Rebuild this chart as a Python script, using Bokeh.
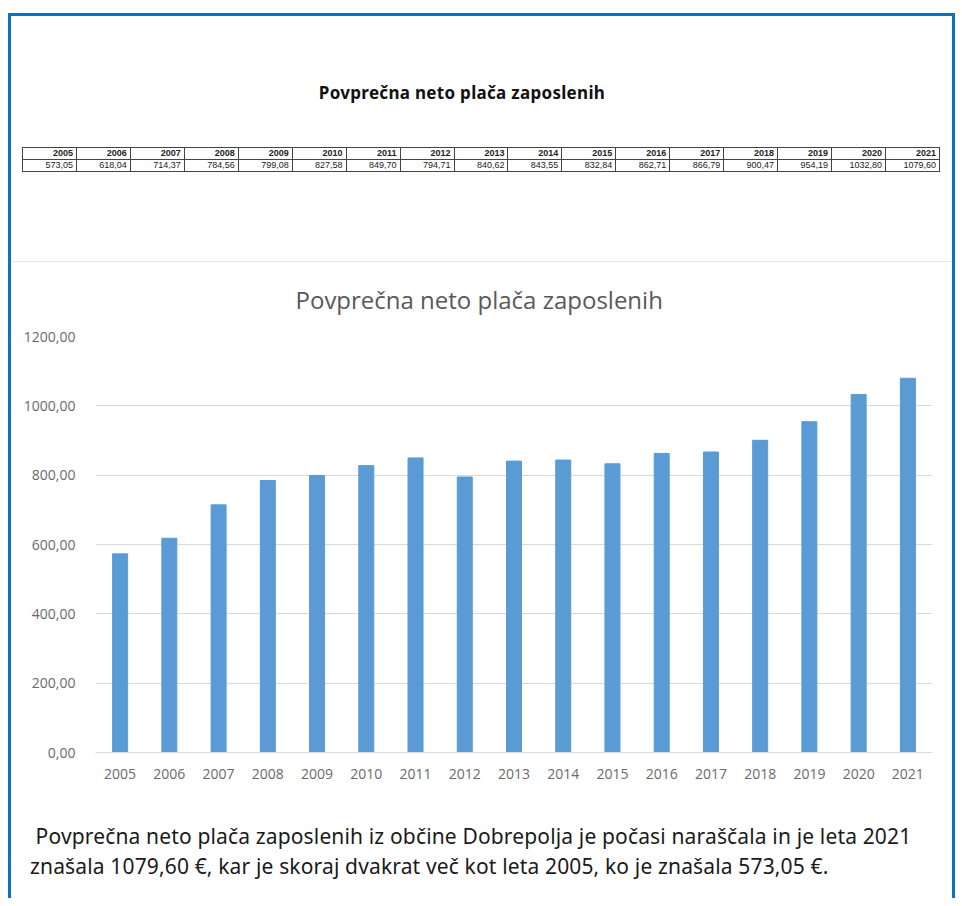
from bokeh.plotting import figure
from bokeh.layouts import column
from bokeh.models import FactorRange, Range1d, Title, Div, CustomJSTickFormatter, FixedTicker
from bokeh.embed import file_html
from bokeh.resources import INLINE

years = [str(y) for y in range(2005, 2022)]
salaries = [573.05, 618.04, 714.37, 784.56, 799.08, 827.58, 849.70, 794.71, 840.62,
            843.55, 832.84, 862.71, 866.79, 900.47, 954.19, 1032.80, 1079.60]
salary_labels = [f"{v:.2f}".replace(".", ",") for v in salaries]
y_ticks = [0, 200, 400, 600, 800, 1000, 1200]
title_text = "Povprečna neto plača zaposlenih"
caption_lines = [
    "&nbsp;Povprečna neto plača zaposlenih iz občine Dobrepolja je počasi naraščala in je leta 2021",
    "znašala 1079,60 €, kar je skoraj dvakrat več kot leta 2005, ko je znašala 573,05 €.",
]

BLUE = "#0b73c6"
W = 941

# ---- title + table section (HTML) ----
td = ("border:1.5px solid #444;padding:0 3px 0 0;text-align:right;height:11px;"
      "line-height:11px;overflow:hidden;white-space:nowrap;")
hdr_cells = "".join(f'<td style="{td}font-weight:bold;">{y}</td>' for y in years)
val_cells = "".join(f'<td style="{td}">{v}</td>' for v in salary_labels)
top_html = (
    f'<div style="position:relative;width:{W}px;height:246px;">'
    f'<div style="position:absolute;left:0;top:66px;width:902px;text-align:center;'
    f'font-family:\'Noto Sans\';font-weight:bold;font-size:17px;line-height:22px;'
    f'color:#111;letter-spacing:0.3px;">{title_text}</div>'
    f'<table style="position:absolute;left:11px;top:131px;width:918px;border-collapse:collapse;'
    f'table-layout:fixed;font-family:\'Liberation Sans\';font-size:9px;color:#222;">'
    f'<tr>{hdr_cells}</tr><tr>{val_cells}</tr></table>'
    f'<div style="position:absolute;left:0;top:245px;width:{W}px;height:1px;background:#e8e8e8;"></div>'
    f'</div>'
)
top = Div(text=top_html, width=W, height=246, margin=0)

# ---- bar chart ----
p = figure(width=W, height=538, x_range=FactorRange(*years), y_range=Range1d(0, 1200),
           output_backend="svg", toolbar_location=None,
           min_border_left=84, min_border_right=20,
           min_border_top=73, min_border_bottom=48)
p.add_layout(Title(text=title_text, align="left", offset=200, standoff=39,
                   vertical_align="middle",
                   text_font="Open Sans", text_font_size="24px",
                   text_font_style="normal", text_color="#595959"), "above")
p.vbar(x=years, top=salaries, width=0.305, color="#5b9bd5")
p.outline_line_color = None
p.xgrid.visible = False
p.ygrid.grid_line_color = "#d9d9d9"
p.yaxis.ticker = FixedTicker(ticks=y_ticks)
p.yaxis.formatter = CustomJSTickFormatter(code="return tick.toFixed(2).replace('.', ',');")
p.yaxis.axis_line_color = None
p.yaxis.major_tick_line_color = None
p.yaxis.minor_tick_line_color = None
p.yaxis.major_label_standoff = 14
p.xaxis.axis_line_color = "#d9d9d9"
p.xaxis.major_tick_line_color = None
p.xaxis.major_label_standoff = 10
for ax in (p.xaxis, p.yaxis):
    ax.major_label_text_font = "Open Sans"
    ax.major_label_text_font_size = "14px"
    ax.major_label_text_color = "#6a6a6a"

cap = Div(text='<div style="padding:21px 0 0 19px; font-family:\'Noto Sans\'; '
               'font-size:21px; line-height:30px; color:#1a1a1a; white-space:nowrap; '
               'letter-spacing:0.15px;">'
               + "<br>".join(caption_lines) + "</div>",
          width=W, height=98, margin=0)

layout = column(top, p, cap, margin=(13, 0, 0, 8),
                styles={"border-top": f"3px solid {BLUE}",
                        "border-left": f"3px solid {BLUE}",
                        "border-right": f"3px solid {BLUE}",
                        "background-color": "white"})

open("out.html", "w").write(file_html(layout, INLINE))
